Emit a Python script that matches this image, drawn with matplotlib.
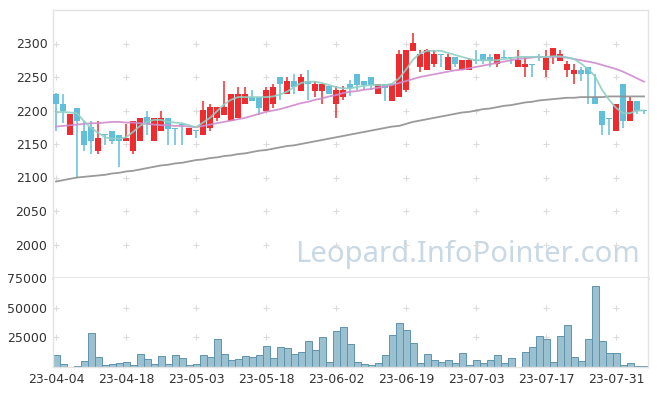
import matplotlib
matplotlib.use("Agg")
import matplotlib.pyplot as plt
import numpy as np

# ---------------- data ----------------
opens = [2225, 2210, 2164, 2204, 2170, 2175, 2140, 2164, 2170, 2164,
         2155, 2140, 2155, 2190, 2155, 2169, 2189, 2174, 2180, 2163,
         2170, 2163, 2174, 2189, 2194, 2184, 2189, 2209, 2220, 2220,
         2199, 2209, 2250, 2225, 2244, 2229, 2244, 2229, 2229, 2236,
         2210, 2220, 2240, 2255, 2244, 2250, 2225, 2240, 2214, 2220,
         2230, 2289, 2265, 2260, 2269, 2284, 2260, 2280, 2260, 2260,
         2275, 2284, 2280, 2269, 2280, 2280, 2265, 2265, 2269, 2280,
         2260, 2280, 2274, 2260, 2254, 2260, 2265, 2220, 2199, 2189,
         2169, 2239, 2184, 2214, 2200]
highs = [2226, 2225, 2195, 2204, 2184, 2184, 2184, 2164, 2170, 2164,
         2180, 2184, 2189, 2200, 2189, 2199, 2189, 2174, 2180, 2174,
         2170, 2214, 2210, 2205, 2244, 2225, 2235, 2235, 2230, 2220,
         2235, 2240, 2250, 2250, 2255, 2255, 2260, 2244, 2240, 2236,
         2237, 2236, 2246, 2255, 2244, 2250, 2240, 2240, 2240, 2290,
         2290, 2315, 2290, 2292, 2290, 2284, 2284, 2280, 2275, 2279,
         2290, 2284, 2284, 2284, 2290, 2280, 2290, 2280, 2269, 2284,
         2290, 2294, 2290, 2274, 2269, 2265, 2265, 2254, 2199, 2189,
         2209, 2239, 2220, 2214, 2200]
lows = [2169, 2181, 2164, 2100, 2140, 2135, 2135, 2149, 2150, 2115,
        2155, 2135, 2155, 2164, 2155, 2169, 2149, 2149, 2149, 2163,
        2159, 2163, 2169, 2184, 2194, 2184, 2189, 2209, 2214, 2194,
        2199, 2204, 2215, 2225, 2225, 2229, 2215, 2220, 2210, 2224,
        2189, 2215, 2221, 2230, 2230, 2230, 2225, 2214, 2214, 2220,
        2228, 2289, 2258, 2260, 2265, 2265, 2260, 2265, 2260, 2260,
        2269, 2269, 2265, 2265, 2279, 2269, 2265, 2250, 2250, 2274,
        2250, 2269, 2274, 2250, 2240, 2244, 2209, 2209, 2164, 2164,
        2169, 2174, 2184, 2195, 2195]
closes = [2210, 2199, 2195, 2184, 2149, 2155, 2159, 2163, 2155, 2155,
          2159, 2184, 2189, 2180, 2189, 2189, 2173, 2173, 2179, 2174,
          2169, 2200, 2205, 2205, 2205, 2225, 2225, 2225, 2214, 2204,
          2230, 2235, 2240, 2244, 2235, 2250, 2240, 2240, 2240, 2224,
          2230, 2230, 2234, 2238, 2238, 2238, 2240, 2234, 2240, 2284,
          2290, 2300, 2284, 2290, 2284, 2283, 2280, 2269, 2275, 2275,
          2274, 2274, 2274, 2284, 2279, 2279, 2275, 2269, 2268, 2279,
          2279, 2294, 2284, 2269, 2260, 2254, 2254, 2209, 2179, 2188,
          2209, 2184, 2214, 2199, 2199]
volumes = [10100, 2500, 0, 800, 5000, 28700, 8400, 1700, 2500, 3400,
           4200, 1700, 11000, 6700, 2500, 9300, 2500, 10100, 7600, 1700,
           2500, 10100, 8400, 23600, 11000, 5900, 6700, 9300, 8400, 10100,
           17700, 7600, 16900, 16000, 11000, 12600, 21900, 14300, 25300, 4200,
           30300, 33700, 19400, 4200, 2500, 1700, 3400, 10100, 27000, 37100,
           31200, 20200, 3400, 11000, 5900, 4200, 5900, 3400, 11800, 1700,
           5900, 3400, 5900, 10100, 3400, 7600, 0, 12900, 16900, 26100,
           23600, 4200, 26100, 35400, 8400, 5000, 23600, 68300, 21900, 11800,
           11800, 1700, 3400, 800, 800]
ma_short = [2197, 2198, 2197, 2196, 2184, 2174, 2167, 2160, 2158, 2158,
            2160, 2168, 2177, 2183, 2186, 2186, 2183, 2182, 2181, 2178,
            2175, 2182, 2189, 2199, 2209, 2216, 2220, 2220, 2220, 2220,
            2220, 2221, 2224, 2228, 2235, 2241, 2243, 2243, 2241, 2238,
            2235, 2233, 2233, 2235, 2237, 2238, 2238, 2238, 2240, 2248,
            2261, 2276, 2285, 2289, 2289, 2289, 2286, 2283, 2280, 2277,
            2275, 2275, 2275, 2275, 2277, 2278, 2280, 2280, 2280, 2280,
            2280, 2281, 2281, 2279, 2277, 2270, 2262, 2251, 2231, 2216,
            2204, 2196, 2196, 2200, 2200]
ma_mid = [2176, 2177, 2178, 2179, 2180, 2181, 2181, 2182, 2183, 2183,
          2182, 2182, 2181, 2180, 2179, 2178, 2178, 2177, 2177, 2176,
          2175, 2177, 2179, 2181, 2183, 2185, 2187, 2189, 2192, 2195,
          2198, 2200, 2202, 2205, 2208, 2211, 2213, 2216, 2218, 2221,
          2223, 2226, 2228, 2229, 2231, 2232, 2234, 2236, 2238, 2241,
          2244, 2247, 2250, 2252, 2254, 2256, 2258, 2260, 2261, 2263,
          2265, 2267, 2269, 2271, 2273, 2275, 2277, 2278, 2279, 2280,
          2280, 2280, 2280, 2279, 2277, 2275, 2273, 2271, 2268, 2265,
          2262, 2258, 2253, 2248, 2243]
ma_long = [2094, 2096, 2098, 2100, 2101, 2102, 2103, 2104, 2106, 2107,
           2109, 2110, 2112, 2114, 2116, 2118, 2119, 2121, 2122, 2124,
           2126, 2127, 2129, 2130, 2132, 2133, 2135, 2136, 2138, 2140,
           2141, 2143, 2145, 2147, 2148, 2150, 2152, 2154, 2156, 2158,
           2160, 2162, 2164, 2166, 2168, 2170, 2172, 2174, 2176, 2177,
           2180, 2183, 2185, 2187, 2189, 2191, 2193, 2195, 2197, 2198,
           2200, 2202, 2203, 2205, 2207, 2208, 2210, 2212, 2213, 2215,
           2216, 2217, 2218, 2219, 2219, 2220, 2220, 2220, 2220, 2221,
           2221, 2221, 2221, 2221, 2221]
tick_labels = ["23-04-04", "23-04-18", "23-05-03", "23-05-18", "23-06-02",
               "23-06-19", "23-07-03", "23-07-17", "23-07-31"]
price_ticks = [2000, 2050, 2100, 2150, 2200, 2250, 2300]
volume_ticks = [25000, 50000, 75000]

# ---------------- style ----------------
UP = "#ee2b2f"
DOWN = "#62bfd9"
GRID = "#dcdcdc"
BORDER = "#e3e3e3"
TXT = "#333333"
FS = 9

plt.rcParams["font.family"] = ["DejaVu Sans"]

fig = plt.figure(figsize=(6.57, 3.96), dpi=100)
L, R = 53 / 657, 648 / 657
ax = fig.add_axes([L, 1 - 278 / 396, R - L, (278 - 10) / 396])
axv = fig.add_axes([L, 1 - 367 / 396, R - L, (367 - 278) / 396], sharex=ax)

x = np.arange(len(opens))
o = np.array(opens, float)
c = np.array(closes, float)
h = np.array(highs, float)
lo = np.array(lows, float)
up = c >= o
colors = np.where(up, UP, DOWN)

# wicks
ax.vlines(x, lo, h, colors=colors, linewidth=1.1, zorder=2)
# bodies
bottom = np.minimum(o, c)
height = np.maximum(np.abs(c - o), 1.5)
ax.bar(x, height, bottom=bottom, width=0.72, color=colors, linewidth=0, zorder=3)

# moving averages
ax.plot(x, ma_long, color="#8f8f8f", lw=1.3, alpha=0.9, zorder=4)
ax.plot(x, ma_mid, color="#cf8ccc", lw=1.3, alpha=0.9, zorder=4)
ax.plot(x, ma_short, color="#8ecfc4", lw=1.3, alpha=0.9, zorder=4)

xt = list(range(0, 10 * len(tick_labels), 10))

# grid "+" markers
for yv in price_ticks:
    ax.plot(xt, [yv] * len(xt), ls="none", marker="+", ms=5, mew=0.8,
            color=GRID, zorder=1)
for yv in volume_ticks[:2]:
    axv.plot(xt, [yv] * len(xt), ls="none", marker="+", ms=5, mew=0.8,
             color=GRID, zorder=1)

ax.set_xlim(-0.43, 84.57)
ax.set_ylim(1950, 2350)
ax.set_yticks(price_ticks)
ax.set_yticklabels([str(v) for v in price_ticks])
ax.tick_params(axis="y", length=0, pad=4, labelsize=FS, labelcolor=TXT)
ax.tick_params(axis="x", length=0, labelbottom=False)

# watermark
ax.text(468 / 657 * 0 + (468 - 53) / (648 - 53), (278 - 262) / 268,
        "Leopard.InfoPointer.com", transform=ax.transAxes,
        ha="center", va="baseline", fontsize=21, color="#c8d8e4",
        family=["Noto Sans", "DejaVu Sans"], zorder=0)

# volume
axv.bar(x, volumes, width=1.0, color="#9bc0d0", edgecolor="#5f93ad",
        linewidth=0.7, zorder=2)
axv.set_ylim(0, 75000)
axv.set_yticks(volume_ticks)
axv.set_yticklabels([str(v) for v in volume_ticks])
axv.tick_params(axis="y", length=0, pad=4, labelsize=FS, labelcolor=TXT)
axv.set_xticks(xt)
axv.set_xticklabels(tick_labels)
axv.tick_params(axis="x", length=0, pad=4, labelsize=FS, labelcolor=TXT)

for a in (ax, axv):
    for s in a.spines.values():
        s.set_color(BORDER)
        s.set_linewidth(1.0)
ax.spines["bottom"].set_linewidth(2.0)
axv.spines["top"].set_visible(False)

fig.savefig("out.png", dpi=100)
